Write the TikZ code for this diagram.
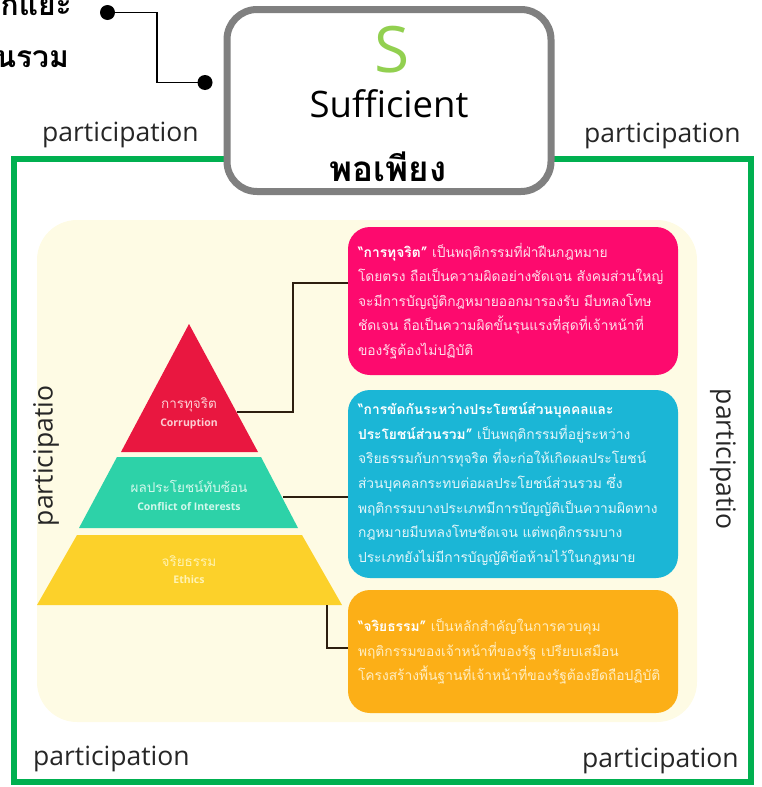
\documentclass[tikz,border=0pt]{standalone}
\usepackage{fontspec}
\setmainfont{Open Sans}
\newfontfamily\osans{Open Sans}
\newfontfamily\thai[Script=Thai]{Loma}
\definecolor{framegreen}{RGB}{0,176,80}
\definecolor{sgreen}{RGB}{146,208,80}
\definecolor{boxgray}{RGB}{128,128,128}
\definecolor{cream}{RGB}{254,251,228}
\definecolor{pinkc}{RGB}{253,10,110}
\definecolor{bluec}{RGB}{27,182,214}
\definecolor{orangec}{RGB}{252,175,23}
\definecolor{redtier}{RGB}{233,23,64}
\definecolor{tealtier}{RGB}{45,210,168}
\definecolor{yellowtier}{RGB}{252,209,42}
\definecolor{linkc}{RGB}{45,30,15}
\definecolor{pinktext}{RGB}{255,222,234}
\definecolor{bluetext}{RGB}{228,246,250}
\definecolor{orangetext}{RGB}{255,238,195}
\definecolor{redlab}{RGB}{252,205,210}
\definecolor{teallab}{RGB}{210,248,236}
\definecolor{yellowlab}{RGB}{255,243,180}
\tikzset{
  part/.style={font=\osans\fontsize{26.5}{30}\selectfont, text=black!85, inner sep=0pt},
  desc/.style={rounded corners=22pt, text width=310pt, inner xsep=10pt, inner ysep=0pt, align=left,
               font=\thai\fontsize{13.8}{24.6}\selectfont},
  link/.style={draw=linkc, line width=2pt},
  thinlink/.style={draw=black, line width=1.5pt},
  dot/.style={circle, fill=black, minimum size=15pt, inner sep=0pt},
  tierlab/.style={font=\thai\fontsize{13.5}{15}\selectfont, inner sep=0pt},
  tiereng/.style={font=\osans\bfseries\fontsize{10.5}{12}\selectfont, inner sep=0pt},
}
\begin{document}
\begin{tikzpicture}[x=1pt,y=-1pt]
\useasboundingbox (0,0) rectangle (761,787);
\clip (0,0) rectangle (761,787);

% top-left text, cut by the picture's edge as in the reference
\node[font=\thai\bfseries\fontsize{30}{32}\selectfont, anchor=base east, inner sep=0pt] (tl1) at (72,16) {การแยกแยะ};
\node[font=\thai\bfseries\fontsize{30}{32}\selectfont, anchor=base east, inner sep=0pt] (tl2) at (69,67) {ประโยชน์ส่วนรวม};

% green frame
\draw[framegreen, line width=6pt] (14,159) rectangle (751,782);

% cream panel
\fill[cream, rounded corners=40pt] (37,220) rectangle (697,722);

% participation labels
\node[part, anchor=base west] (p1) at (42,141) {participation};
\node[part, anchor=base west] (p2) at (584,142) {participation};
\node[part, anchor=base west] (p3) at (33,765) {participation};
\node[part, anchor=base west] (p4) at (582,767) {participation};
\node[part, rotate=90] (p5) at (46,456) {participatio};
\node[part, rotate=-90] (p6) at (723,459) {participatio};

% connector to top box
\node[dot] (d1) at (107.5,12.5) {};
\node[dot] (d2) at (205,82.5) {};
\coordinate (k0) at (157,12.5);
\draw[thinlink] (d1.center) -- (k0) -- (k0 |- d2.center) -- (d2.center);

% top box
\node[draw=boxgray, line width=7pt, fill=white, rounded corners=30pt,
      minimum width=324pt, minimum height=182pt, inner sep=0pt] (topbox) at (389,100.5) {};
\node[font=\osans\fontsize{64}{64}\selectfont, text=sgreen, anchor=base, inner sep=0pt] (sl) at (392,72) {S};
\node[font=\osans\fontsize{36.5}{38}\selectfont, anchor=base, inner sep=0pt] (suff) at (389,117) {Sufficient};
\node[font=\thai\bfseries\fontsize{35}{38}\selectfont, anchor=base, inner sep=0pt] (por) at (388,181) {พอเพียง};

% pyramid
\fill[redtier] (189,324) -- (258,452) -- (121,452) -- cycle;
\fill[tealtier] (117,457) -- (261,457) -- (298,528) -- (79,528) -- cycle;
\fill[yellowtier] (77,535) -- (302,535) -- (342,605) -- (37,605) -- cycle;
\node[tierlab, text=redlab, anchor=base] (t1a) at (189,408) {การทุจริต};
\node[tiereng, text=redlab, anchor=base] (t1b) at (189,426) {Corruption};
\node[tierlab, text=teallab, anchor=base] (t2a) at (189,492) {ผลประโยชน์ทับซ้อน};
\node[tiereng, text=teallab, anchor=base] (t2b) at (189,510) {Conflict of Interests};
\node[tierlab, text=yellowlab, anchor=base] (t3a) at (189,566) {จริยธรรม};
\node[tiereng, text=yellowlab, anchor=base] (t3b) at (189,583) {Ethics};

% description boxes
\node[desc, fill=pinkc, text=pinktext, minimum height=148pt] (pink) at (513,301) {%
{\bfseries\color{white}“การทุจริต”} เป็นพฤติกรรมที่ฝ่าฝืนกฎหมาย\\
โดยตรง ถือเป็นความผิดอย่างชัดเจน สังคมส่วนใหญ่\\
จะมีการบัญญัติกฎหมายออกมารองรับ มีบทลงโทษ\\
ชัดเจน ถือเป็นความผิดขั้นรุนแรงที่สุดที่เจ้าหน้าที่\\
ของรัฐต้องไม่ปฏิบัติ};

\node[desc, fill=bluec, text=bluetext, minimum height=188pt] (blue) at (513,484) {%
{\bfseries\color{white}“การขัดกันระหว่างประโยชน์ส่วนบุคคลและ}\\
{\bfseries\color{white}ประโยชน์ส่วนรวม”} เป็นพฤติกรรมที่อยู่ระหว่าง\\
จริยธรรมกับการทุจริต ที่จะก่อให้เกิดผลประโยชน์\\
ส่วนบุคคลกระทบต่อผลประโยชน์ส่วนรวม ซึ่ง\\
พฤติกรรมบางประเภทมีการบัญญัติเป็นความผิดทาง\\
กฎหมายมีบทลงโทษชัดเจน แต่พฤติกรรมบาง\\
ประเภทยังไม่มีการบัญญัติข้อห้ามไว้ในกฎหมาย};

\node[desc, fill=orangec, text=orangetext, minimum height=123pt] (orange) at (513,651.5) {%
{\bfseries\color{white}“จริยธรรม”} เป็นหลักสำคัญในการควบคุม\\
พฤติกรรมของเจ้าหน้าที่ของรัฐ เปรียบเสมือน\\
โครงสร้างพื้นฐานที่เจ้าหน้าที่ของรัฐต้องยึดถือปฏิบัติ};

% connectors
\coordinate (c1) at (236.5,412);
\coordinate (c1k) at (293,412);
\coordinate (c1u) at (293,283);
\draw[link] (c1) -- (c1k) -- (c1u) -- (c1u -| pink.west);
\coordinate (c2) at (283,497);
\draw[link] (c2) -- (c2 -| blue.west);
\coordinate (c3) at (327,605);
\coordinate (c3k) at (327,648);
\draw[link] (c3) -- (c3k) -- (c3k -| orange.west);
\end{tikzpicture}
\end{document}
